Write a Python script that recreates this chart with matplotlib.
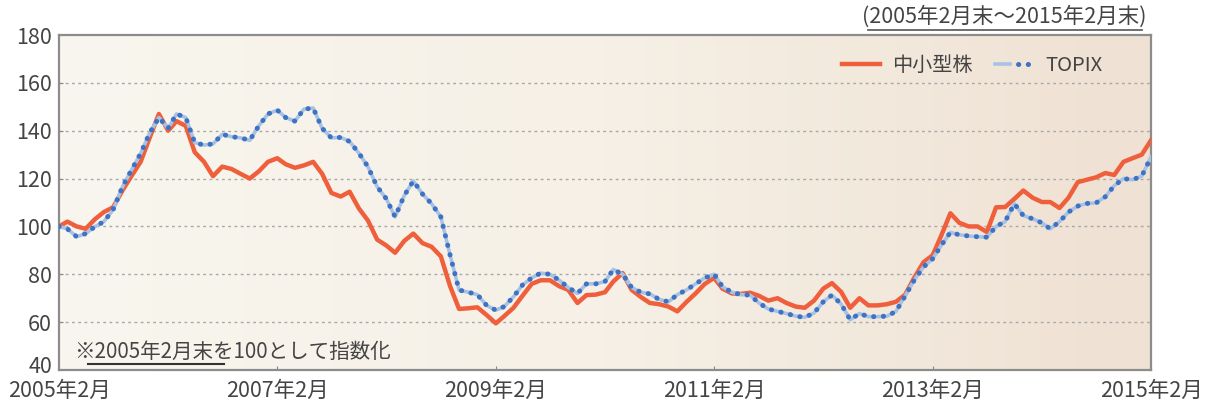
import matplotlib
matplotlib.use("Agg")
import matplotlib.pyplot as plt
from matplotlib.colors import LinearSegmentedColormap
from matplotlib.legend_handler import HandlerTuple
from matplotlib.lines import Line2D
from matplotlib.transforms import ScaledTranslation
import numpy as np
import pandas as pd

plt.rcParams["font.family"] = ["Noto Sans CJK JP", "DejaVu Sans"]

# month-end index values, 2005/2 .. 2015/2 (121 months)
small_mid = [
    100, 102, 100, 99, 103, 106, 108, 115, 121, 127,
    137, 147, 140, 144, 142, 131, 127, 121, 125, 124,
    122, 120, 123, 127, 128.5, 126, 124.5, 125.5, 127, 122,
    114, 112.5, 114.5, 107.5, 102.5, 94.5, 92, 89, 94, 97,
    93, 91.5, 87.5, 75, 65.5, 65.8, 66.2, 63, 59.5, 62.5,
    66, 71, 76, 77.5, 77.5, 75, 73.5, 68, 71.3, 71.5,
    72.5, 77, 80.5, 73.5, 70.5, 68, 67.5, 66.5, 64.5, 68.5,
    72, 76, 78.5, 74, 72, 71.8, 72.3, 71, 69, 70,
    68, 66.5, 66, 69, 74, 76.3, 72.6, 66, 70, 67,
    67, 67.5, 68.5, 71.5, 78.5, 85, 88, 96, 105.5, 101.5,
    100, 100, 97.7, 108, 108.1, 111.5, 115, 112, 110.2, 110.2,
    107.7, 112, 118.5, 119.5, 120.5, 122.3, 121.5, 127, 128.5, 130,
    136,
]
topix = [
    100, 99, 95.7, 97, 99.9, 102, 107, 116.5, 123.5, 130.5,
    139, 145.5, 141, 147, 145.5, 135, 134, 134.5, 138.5, 137.5,
    137, 136, 142, 147, 148.6, 145.5, 144, 149, 149.5, 141,
    137, 137.2, 135.5, 130.6, 125, 116.6, 111.5, 104, 113, 119,
    113.5, 109.5, 104, 88, 73.4, 72.5, 71.5, 67, 65, 66.5,
    70.6, 75.5, 78.5, 80.5, 80, 77.5, 74.5, 72, 76, 76,
    77, 82, 80, 74.5, 72.5, 71.8, 69.5, 68.5, 71.5, 73.5,
    76, 78.5, 80, 74.8, 72.5, 71.5, 71.3, 68, 65.5, 64.5,
    63.6, 62.5, 62, 63.8, 68.5, 71.3, 67.5, 61, 63.6, 62.3,
    62.3, 62.5, 64.5, 71, 77.5, 83, 86.5, 92, 97.5, 96.5,
    96, 95.7, 95.5, 100, 102, 109.5, 104.5, 103.2, 101.5, 99,
    102, 106, 108.5, 109.6, 109.8, 112.4, 117, 120, 119.5, 121,
    129,
]
months = pd.date_range("2005-02-01", periods=len(small_mid), freq="MS")
tick_dates = pd.to_datetime(["2005-02-01", "2007-02-01", "2009-02-01",
                             "2011-02-01", "2013-02-01", "2015-02-01"])
tick_labels = ["2005年2月", "2007年2月", "2009年2月", "2011年2月", "2013年2月", "2015年2月"]
y_ticks = [40, 60, 80, 100, 120, 140, 160, 180]

red = "#EF5F3C"
blue_dot = "#3E72C2"
blue_light = "#A8C2E6"
txt = "#444444"

fig = plt.figure(figsize=(12.05, 4.03), dpi=100)
ax = fig.add_axes([59 / 1205, 1 - 370 / 403, 1092 / 1205, 335 / 403])

# beige gradient background (lighter on the left)
bg = LinearSegmentedColormap.from_list("bg", ["#F8F6EE", "#F6F0E6", "#EFE1D3"])
ax.imshow(np.linspace(0, 1, 256).reshape(1, -1), cmap=bg, aspect="auto",
          extent=[months[0], months[-1], 40, 180], zorder=0)

for yv in y_ticks[1:-1]:
    ax.axhline(yv, color="#a8a8a8", linestyle=(0, (2, 2.5)), linewidth=1.0, zorder=1)

ax.plot(months, small_mid, color=red, linewidth=3.2, solid_joinstyle="round", zorder=3)
l_light, = ax.plot(months, topix, color=blue_light, linewidth=2.6, zorder=4)
l_dot, = ax.plot(months, topix, color=blue_dot, linewidth=3.6,
                 linestyle=(0, (0.05, 1.9)), dash_capstyle="round", zorder=5)

ax.set_xlim(months[0], months[-1])
ax.set_ylim(40, 180)
ax.set_yticks(y_ticks)
ax.set_xticks(tick_dates)
ax.set_xticklabels(tick_labels)
ax.tick_params(axis="both", direction="in", length=3, color="#888888",
               labelcolor=txt)
ax.tick_params(axis="x", pad=7, labelsize=15.5)
ax.tick_params(axis="y", pad=5, labelsize=15.5)
for s in ax.spines.values():
    s.set_color("#8c8c8c")
    s.set_linewidth(1.6)

# lift the bottom "40" a little so it clears the first date label
lbl40 = ax.yaxis.get_major_ticks()[0].label1
lbl40.set_transform(lbl40.get_transform() + ScaledTranslation(0, 4 / 72, fig.dpi_scale_trans))

red_h = Line2D([], [], color=red, linewidth=3.2)
leg = ax.legend([red_h, (l_light, l_dot)], ["中小型株", "TOPIX"],
                handler_map={tuple: HandlerTuple(ndivide=None)},
                loc="upper right", bbox_to_anchor=(0.972, 0.995), ncol=2,
                frameon=False, handlelength=1.9, handletextpad=0.6,
                columnspacing=1.1, fontsize=14.5)
for t in leg.get_texts():
    t.set_color(txt)

# header and footnote
fig.text(1147 / 1205, 1 - 17 / 403, "(2005年2月末〜2015年2月末)", ha="right",
         va="center", fontsize=15.5, color=txt)
fig.add_artist(Line2D([868 / 1205, 1142 / 1205], [1 - 30 / 403, 1 - 30 / 403],
                      color="#555555", linewidth=1.2))
ax.text(0.014, 0.055, "※2005年2月末を100として指数化", transform=ax.transAxes,
        ha="left", va="center", fontsize=14.8, color=txt, zorder=6)
fig.add_artist(Line2D([88 / 1205, 224 / 1205], [1 - 364 / 403, 1 - 364 / 403],
                      color="#333333", linewidth=1.5))

fig.savefig("out.png", dpi=100)
